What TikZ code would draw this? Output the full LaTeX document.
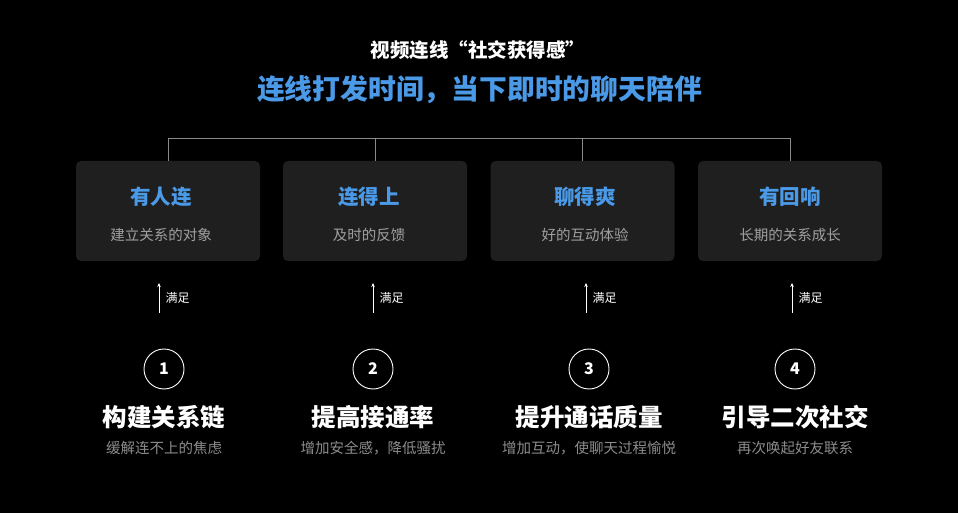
\documentclass[tikz,border=0pt]{standalone}
\usepackage{fontspec}
\setmainfont{Noto Sans CJK SC}
\usetikzlibrary{arrows.meta}

\definecolor{linkblue}{HTML}{4A9AE8}
\definecolor{cardgrey}{HTML}{1F1F1F}
\definecolor{subgrey}{HTML}{A0A0A0}
\definecolor{notegrey}{HTML}{8C8C8C}
\definecolor{bracketgrey}{HTML}{8A8A8A}

\tikzset{
  card/.style={fill=cardgrey, rounded corners=5pt, minimum width=184pt, minimum height=100pt, inner sep=0pt},
  cardtitle/.style={text=linkblue, font=\fontsize{20.5}{24}\selectfont\bfseries, inner sep=0pt},
  cardsub/.style={text=subgrey, font=\fontsize{14.5}{17}\selectfont, inner sep=0pt},
  badge/.style={circle, draw=white, line width=0.9pt, minimum size=40pt, inner sep=0pt, text=white, font=\fontsize{16}{18}\selectfont\bfseries},
  goal/.style={text=white, font=\fontsize{24.5}{28}\selectfont\bfseries, inner sep=0pt},
  goalsub/.style={text=notegrey, font=\fontsize{14.5}{17}\selectfont, inner sep=0pt},
  meet/.style={text=white, font=\fontsize{12}{14}\selectfont, inner sep=0pt, anchor=west}
}

\begin{document}
\begin{tikzpicture}[x=1pt, y=-1pt]

        % Background and frame
        \fill[black] (0,0) rectangle (958,513);
        \useasboundingbox (0,0) rectangle (958,513);

        % Headings
        \node[text=white, font=\fontsize{19.5}{22}\selectfont\bfseries, inner sep=0pt] (head) at (478,50) {视频连线“社交获得感”};
        \node[text=linkblue, font=\fontsize{27.8}{32}\selectfont\bfseries, inner sep=0pt] (claim) at (479.5,90) {连线打发时间，当下即时的聊天陪伴};

        % Cards: box x / text x / title / subtitle
        \foreach \i/\bx/\tx/\ttl/\sub in {1/168/161/有人连/建立关系的对象,
                                         2/375/369/连得上/及时的反馈,
                                         3/582.5/585/聊得爽/好的互动体验,
                                         4/790/790/有回响/长期的关系成长}{
          \node[card] (card\i) at (\bx,211) {};
          \node[cardtitle] (title\i) at (\tx,197) {\ttl};
          \node[cardsub] (sub\i) at (\tx,235) {\sub};
        }

        % Bracket over the cards
        \coordinate (bar) at (0,138);
        \draw[bracketgrey, line width=0.8pt] (card1.north) -- (card1.north |- bar) -- (card4.north |- bar) -- (card4.north);
        \draw[bracketgrey, line width=0.8pt] (card2.north) -- (card2.north |- bar);
        \draw[bracketgrey, line width=0.8pt] (card3.north) -- (card3.north |- bar);

        % Arrows, numbered steps and goals
        \foreach \i/\ax/\cx/\goal/\note in {1/159/164/构建关系链/缓解连不上的焦虑,
                                            2/373/373/提高接通率/增加安全感，降低骚扰,
                                            3/586/589/提升通话质量/增加互动，使聊天过程愉悦,
                                            4/792/795/引导二次社交/再次唤起好友联系}{
          \coordinate (foot\i) at (\ax,313);
          \coordinate (tip\i) at (\ax,283);
          \draw[white, line width=1pt, -{Stealth[length=4pt, width=3.5pt]}] (foot\i) -- (tip\i);
          \node[meet] (meet\i) at (\ax+6.5,298) {满足};
          \node[badge] (badge\i) at (\cx,369) {\i};
          \node[goal] (goal\i) at (\cx,417) {\goal};
          \node[goalsub] (goalsub\i) at (\cx,448) {\note};
        }

    \end{tikzpicture}
\end{document}
